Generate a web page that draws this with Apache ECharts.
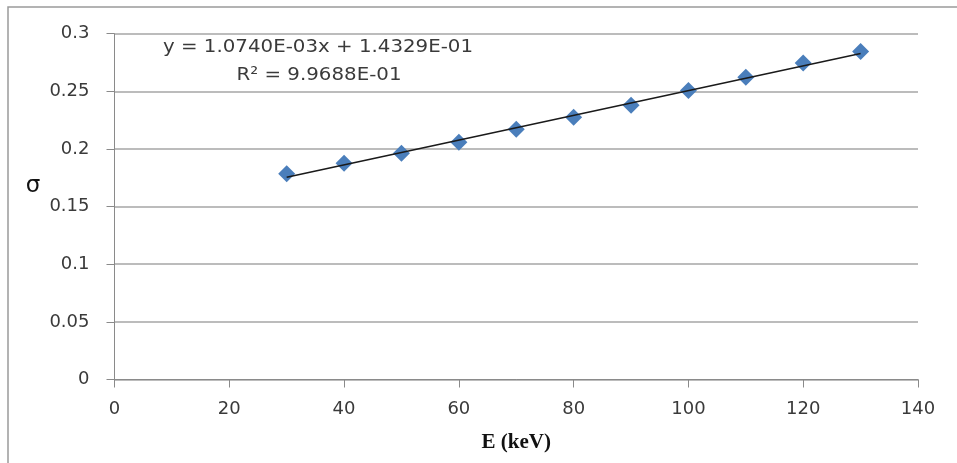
<!DOCTYPE html>
<html>
<head>
<meta charset="utf-8">
<script src="https://cdn.jsdelivr.net/npm/echarts@6/dist/echarts.min.js"></script>
<style>html,body{margin:0;padding:0;background:#fff}#c{width:957px;height:463px}</style>
</head>
<body>
<div id="c"></div>
<script>
// Data
var energies = [30, 40, 50, 60, 70, 80, 90, 100, 110, 120, 130];
var sigma = [0.1784, 0.1877, 0.1963, 0.2059, 0.2172, 0.2276, 0.2380, 0.2507, 0.2623, 0.2745, 0.2846];
var trendX = [30, 130];
var trendY = [0.17551, 0.28291];
var eqText = 'y = 1.0740E-03x + 1.4329E-01';
var r2Text = 'R\u00B2 = 9.9688E-01';
var xTitle = 'E (keV)';
var yTitle = '\u03C3';

var chart = echarts.init(document.getElementById('c'), null, {renderer: 'canvas'});
var labelColor = '#3a3a3a';
var font = 'DejaVu Sans';
var option = {
  animation: false,
  backgroundColor: '#fff',
  grid: {left: 114.5, right: 39, top: 33.7, bottom: 83.5, containLabel: false},
  xAxis: {
    type: 'value', min: 0, max: 140, interval: 20,
    axisLine: {show: true, onZero: false, lineStyle: {color: '#8a8a8a', width: 1}},
    axisTick: {show: true, inside: false, length: 8, lineStyle: {color: '#8a8a8a'}},
    axisLabel: {color: labelColor, fontSize: 18, fontFamily: font, margin: 21},
    splitLine: {show: false},
    name: xTitle, nameLocation: 'middle', nameGap: 53,
    nameTextStyle: {color: '#111', fontSize: 21, fontWeight: 'bold', fontFamily: 'Liberation Serif'}
  },
  yAxis: {
    type: 'value', min: 0, max: 0.3, interval: 0.05,
    axisLine: {show: true, lineStyle: {color: '#8a8a8a', width: 1}},
    axisTick: {show: true, inside: false, length: 8, lineStyle: {color: '#8a8a8a'}},
    axisLabel: {color: labelColor, fontSize: 18, fontFamily: font, margin: 25,
      formatter: function (v) { return String(Math.round(v * 100) / 100); }},
    splitLine: {show: true, lineStyle: {color: '#a6a6a6', width: 1.5}}
  },
  graphic: [
    {type: 'rect', shape: {x: 8, y: 7, width: 1000, height: 1000}, style: {fill: 'none', stroke: '#9a9a9a', lineWidth: 1.5}, z: -10, silent: true},
    {type: 'text', x: 318, y: 47, scaleX: 1.1, style: {text: eqText, fill: labelColor, fontSize: 18, fontFamily: font, align: 'center', verticalAlign: 'middle'}, z: 10},
    {type: 'text', x: 319, y: 75, scaleX: 1.1, style: {text: r2Text, fill: labelColor, fontSize: 18, fontFamily: font, align: 'center', verticalAlign: 'middle'}, z: 10},
    {type: 'text', x: 33, y: 186, style: {text: yTitle, fill: '#111', fontSize: 23, fontFamily: font, align: 'center', verticalAlign: 'middle'}, z: 10}
  ],
  series: [
    {
      type: 'scatter', name: 'sigma',
      data: energies.map(function (e, i) { return [e, sigma[i]]; }),
      symbol: 'diamond', symbolSize: [17, 17],
      itemStyle: {color: '#4a7ebb', opacity: 1},
      z: 3
    },
    {
      type: 'line', name: 'trend',
      data: trendX.map(function (e, i) { return [e, trendY[i]]; }),
      showSymbol: false, symbol: 'none',
      lineStyle: {color: '#1a1a1a', width: 1.5},
      z: 4
    }
  ]
};
chart.setOption(option);
</script>
</body>
</html>
